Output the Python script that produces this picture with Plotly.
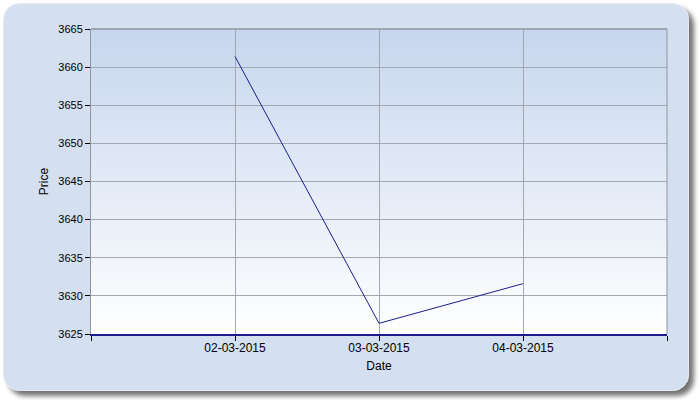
import base64
import plotly.graph_objects as go

dates = ["2015-03-02", "2015-03-03", "2015-03-04"]
prices = [3661.4, 3626.4, 3631.6]
tick_dates = ["2015-03-01", "2015-03-02", "2015-03-03", "2015-03-04", "2015-03-05"]
tick_labels = ["", "02-03-2015", "03-03-2015", "04-03-2015", ""]
y_ticks = [3625, 3630, 3635, 3640, 3645, 3650, 3655, 3660, 3665]

W, H = 700, 400
L, R, T, B = 91, 33, 29, 66
pw, ph = W - L - R, H - T - B

def svg_uri(svg):
    return "data:image/svg+xml;base64," + base64.b64encode(svg.encode()).decode()

panel_svg = f"""<svg xmlns='http://www.w3.org/2000/svg' width='{W}' height='{H}' viewBox='0 0 {W} {H}'>
<defs>
<filter id='s' x='-5%' y='-5%' width='115%' height='115%'>
<feGaussianBlur in='SourceAlpha' stdDeviation='2.5'/>
<feOffset dx='5' dy='5' result='o'/>
<feComponentTransfer><feFuncA type='linear' slope='0.55'/></feComponentTransfer>
<feMerge><feMergeNode/><feMergeNode in='SourceGraphic'/></feMerge>
</filter>
</defs>
<rect x='3.5' y='3.5' width='685' height='387' rx='16' ry='16' fill='#d4dff0' stroke='#e4eaf4' stroke-width='1' filter='url(#s)'/>
</svg>"""

grad_svg = """<svg xmlns='http://www.w3.org/2000/svg' width='100' height='100' viewBox='0 0 100 100' preserveAspectRatio='none'>
<defs><linearGradient id='g' x1='0' y1='0' x2='0' y2='1'>
<stop offset='0' stop-color='#c6d6ee'/><stop offset='1' stop-color='#ffffff'/>
</linearGradient></defs>
<rect x='0' y='0' width='100' height='100' fill='url(#g)'/>
</svg>"""

fig = go.Figure()
fig.add_trace(go.Scatter(x=dates, y=prices, mode="lines",
                         line=dict(color="#1c1c8e", width=1), hoverinfo="skip"))

xfont = dict(family="Liberation Sans, Arial, sans-serif", size=12, color="#000000")
yfont = dict(family="Liberation Sans, Arial, sans-serif", size=11, color="#000000")

fig.update_layout(
    width=W, height=H,
    margin=dict(l=L, r=R, t=T, b=B, pad=0),
    paper_bgcolor="#ffffff",
    plot_bgcolor="rgba(0,0,0,0)",
    showlegend=False,
    font=xfont,
    images=[
        dict(source=svg_uri(panel_svg), xref="paper", yref="paper",
             x=-L / pw, y=1 + T / ph, sizex=W / pw, sizey=H / ph,
             xanchor="left", yanchor="top", sizing="stretch", layer="below"),
        dict(source=svg_uri(grad_svg), xref="paper", yref="paper",
             x=0, y=1, sizex=1, sizey=1,
             xanchor="left", yanchor="top", sizing="stretch", layer="below"),
    ],
    xaxis=dict(
        type="date", range=[tick_dates[0], tick_dates[-1]],
        tickmode="array", tickvals=tick_dates, ticktext=tick_labels,
        ticks="outside", ticklen=5, tickcolor="#000000", tickwidth=1,
        ticklabelstandoff=-3,
        showgrid=True, gridcolor="#a3a8b0", gridwidth=1,
        showline=True, linecolor="#1c1c8e", linewidth=2,
        mirror=False, zeroline=False,
        title=dict(text="Date", standoff=7, font=xfont),
        tickfont=xfont,
    ),
    yaxis=dict(
        range=[3625, 3665], tickmode="array", tickvals=y_ticks,
        ticks="outside", ticklen=5, tickcolor="#000000", tickwidth=1,
        showgrid=True, gridcolor="#a3a8b0", gridwidth=1,
        showline=True, linecolor="#8e959e", linewidth=1,
        mirror=False, zeroline=False,
        title=dict(text="Price", standoff=7, font=xfont),
        tickfont=yfont,
    ),
    shapes=[
        dict(type="line", xref="paper", yref="paper", x0=0, x1=1, y0=1, y1=1,
             line=dict(color="#8e959e", width=1.5)),
        dict(type="line", xref="paper", yref="paper", x0=1, x1=1, y0=0, y1=1,
             line=dict(color="#8e959e", width=1)),
    ],
)

fig.write_html("out.html", config={"displayModeBar": False},
               post_script="document.body.style.margin='0';")
